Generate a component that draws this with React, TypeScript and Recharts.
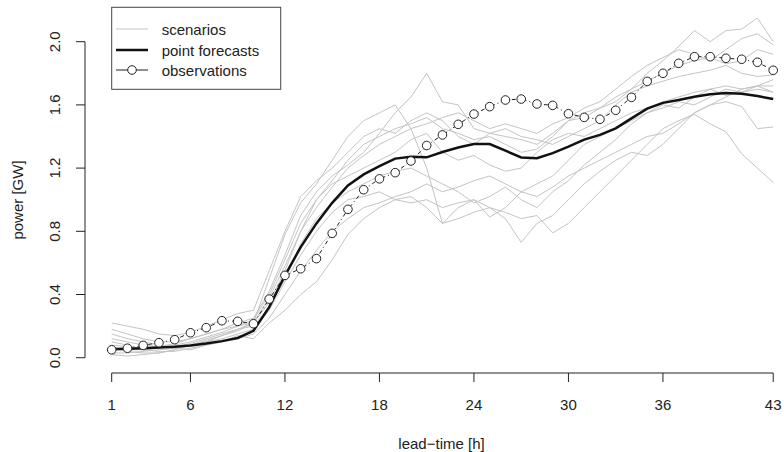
import React from 'react';
import { LineChart, Line, XAxis, YAxis, ReferenceLine, Customized } from 'recharts';

// lead times 1..43 h
const leadTimes = [
  1, 2, 3, 4, 5, 6, 7, 8, 9, 10, 11, 12, 13, 14, 15, 16, 17, 18, 19, 20, 21, 22,
  23, 24, 25, 26, 27, 28, 29, 30, 31, 32, 33, 34, 35, 36, 37, 38, 39, 40, 41, 42, 43,
];

const xTicks = [1, 6, 12, 18, 24, 30, 36, 43];
const yTicks = [0, 0.4, 0.8, 1.2, 1.6, 2.0];

const observations = [
  0.05, 0.06, 0.078, 0.095, 0.114, 0.158, 0.19, 0.234, 0.23, 0.215,
  0.371, 0.521, 0.563, 0.627, 0.787, 0.939, 1.063, 1.132, 1.171, 1.245,
  1.343, 1.41, 1.477, 1.542, 1.589, 1.631, 1.637, 1.606, 1.597, 1.544,
  1.521, 1.509, 1.566, 1.648, 1.749, 1.8, 1.863, 1.905, 1.905, 1.895,
  1.889, 1.87, 1.819,
];

const pointForecasts = [
  0.055, 0.057, 0.06, 0.065, 0.07, 0.078, 0.09, 0.105, 0.125, 0.17,
  0.32, 0.52, 0.7, 0.85, 0.98, 1.09, 1.16, 1.212, 1.26, 1.272,
  1.268, 1.302, 1.33, 1.352, 1.352, 1.31, 1.267, 1.262, 1.295, 1.336,
  1.38, 1.41, 1.452, 1.515, 1.576, 1.613, 1.631, 1.652, 1.668, 1.675,
  1.671, 1.656, 1.637,
];

const scenario1 = [
  0.08, 0.07, 0.06, 0.07, 0.09, 0.12, 0.15, 0.18, 0.22, 0.25,
  0.42, 0.65, 0.9, 1.05, 1.15, 1.22, 1.3, 1.42, 1.55, 1.65,
  1.8, 1.62, 1.6, 1.45, 1.42, 1.4, 1.38, 1.35, 1.42, 1.5,
  1.55, 1.58, 1.65, 1.7, 1.75, 1.8, 1.85, 1.88, 1.9, 1.86, 1.88, 1.95, 1.92,
];
const scenario2 = [
  0.05, 0.04, 0.03, 0.03, 0.05, 0.08, 0.1, 0.14, 0.18, 0.22,
  0.35, 0.55, 0.8, 1.0, 1.12, 1.25, 1.35, 1.4, 1.45, 1.48,
  1.52, 1.45, 1.42, 1.38, 1.4, 1.35, 1.3, 1.32, 1.4, 1.5,
  1.52, 1.58, 1.62, 1.7, 1.8, 1.88, 1.97, 2.07, 2.0, 2.07, 2.08, 2.15, 2.0,
];
const scenario3 = [
  0.15, 0.12, 0.1, 0.08, 0.06, 0.05, 0.08, 0.1, 0.14, 0.12,
  0.22, 0.3, 0.4, 0.48, 0.62, 0.78, 0.88, 0.95, 1.0, 1.02,
  0.95, 0.85, 0.88, 0.92, 0.95, 0.88, 0.73, 0.85, 0.9, 1.0,
  1.1, 1.18, 1.25, 1.3, 1.28, 1.35, 1.45, 1.55, 1.6, 1.65, 1.7, 1.72, 1.76,
];
const scenario4 = [
  0.02, 0.01, 0.02, 0.03, 0.05, 0.08, 0.1, 0.12, 0.15, 0.18,
  0.3, 0.48, 0.65, 0.8, 0.92, 1.0, 1.02, 1.05, 1.0, 0.98,
  1.0, 0.95, 0.98, 1.0, 0.95, 0.92, 0.88, 0.9, 0.79, 0.85,
  0.95, 1.05, 1.15, 1.25, 1.35, 1.45, 1.5, 1.54, 1.48, 1.43, 1.29, 1.2, 1.11,
];
const scenario5 = [
  0.22, 0.2, 0.18, 0.15, 0.14, 0.16, 0.2, 0.24, 0.28, 0.3,
  0.55, 0.8, 1.02, 1.12, 1.2, 1.3, 1.4, 1.45, 1.42, 1.5,
  1.55, 1.5, 1.4, 1.35, 1.42, 1.45, 1.4, 1.38, 1.35, 1.4,
  1.45, 1.5, 1.6, 1.68, 1.72, 1.75, 1.78, 1.8, 1.82, 1.85, 1.8, 1.78, 1.79,
];
const scenario6 = [
  0.1, 0.08, 0.05, 0.04, 0.04, 0.06, 0.08, 0.1, 0.12, 0.15,
  0.25, 0.4, 0.55, 0.68, 0.8, 0.88, 0.95, 0.98, 1.02, 1.05,
  1.1, 1.05, 1.08, 1.12, 1.15, 1.1, 1.05, 1.02, 1.08, 1.15,
  1.2, 1.25, 1.3, 1.35, 1.4, 1.42, 1.48, 1.55, 1.6, 1.62, 1.59, 1.45, 1.46,
];
const scenario7 = [
  0.06, 0.05, 0.05, 0.06, 0.08, 0.1, 0.13, 0.16, 0.2, 0.24,
  0.4, 0.62, 0.85, 1.0, 1.1, 1.15, 1.2, 1.25, 1.3, 1.38,
  1.42, 1.3, 1.25, 1.28, 1.22, 1.18, 1.2, 1.3, 1.38, 1.42,
  1.4, 1.45, 1.5, 1.55, 1.58, 1.62, 1.65, 1.68, 1.7, 1.72, 1.7, 1.72, 1.72,
];
const scenario8 = [
  0.12, 0.1, 0.08, 0.07, 0.07, 0.09, 0.12, 0.15, 0.18, 0.2,
  0.32, 0.5, 0.72, 0.88, 0.98, 1.05, 1.1, 1.15, 1.18, 1.2,
  1.15, 1.1, 1.05, 0.98, 1.02, 1.08, 1.0, 0.95, 1.05, 1.12,
  1.22, 1.3, 1.38, 1.48, 1.55, 1.6, 1.58, 1.65, 1.7, 1.66, 1.68, 1.72, 1.68,
];
const scenario9 = [
  0.03, 0.03, 0.04, 0.05, 0.06, 0.08, 0.11, 0.14, 0.17, 0.22,
  0.38, 0.58, 0.8, 0.95, 1.08, 1.2, 1.28, 1.35, 1.4, 1.45,
  1.48, 1.52, 1.55, 1.5, 1.45, 1.48, 1.45, 1.42, 1.48, 1.52,
  1.58, 1.62, 1.7, 1.78, 1.85, 1.9, 1.95, 1.92, 1.88, 1.95, 2.02, 2.05, 1.98,
];
const scenario10 = [
  0.18, 0.15, 0.12, 0.1, 0.1, 0.12, 0.15, 0.18, 0.2, 0.22,
  0.5, 0.78, 0.98, 1.1, 1.25, 1.4, 1.5, 1.55, 1.6, 1.45,
  1.2, 0.85, 0.95, 1.0, 0.89, 0.95, 1.05, 1.1, 1.15, 1.25,
  1.35, 1.4, 1.45, 1.5, 1.55, 1.58, 1.62, 1.6, 1.65, 1.7, 1.68, 1.7, 1.68,
];

const scenarios = [
  scenario1, scenario2, scenario3, scenario4, scenario5,
  scenario6, scenario7, scenario8, scenario9, scenario10,
];

const data = leadTimes.map((h, i) => {
  const row: Record<string, number> = { h, obs: observations[i], fc: pointForecasts[i] };
  scenarios.forEach((s, k) => {
    row['s' + (k + 1)] = s[i];
  });
  return row;
});

const FONT = '"Liberation Sans", Arial, Helvetica, sans-serif';
const INK = '#222';
const GREY = '#c4c4c4';

const XTick = ({ x, y, payload }: any) => (
  <text x={x} y={y + 27.5} textAnchor="middle" fontSize={15} fontFamily={FONT} fill={INK}>
    {payload.value}
  </text>
);

const YTick = ({ x, y, payload }: any) => {
  const bx = x - 16;
  return (
    <text
      x={bx}
      y={y}
      transform={`rotate(-90 ${bx} ${y})`}
      textAnchor="middle"
      fontSize={15}
      fontFamily={FONT}
      fill={INK}
    >
      {payload.value.toFixed(1)}
    </text>
  );
};

const Overlay = () => (
  <g fontFamily={FONT} fontSize={15} fill={INK}>
    <text x={441.5} y={448.5} textAnchor="middle">lead−time [h]</text>
    <text x={22.5} y={200} textAnchor="middle" transform="rotate(-90 22.5 200)">power [GW]</text>
    <rect x={111.7} y={7.3} width={169} height={82} fill="#fff" stroke="#444" strokeWidth={1} />
    <line x1={116} y1={29} x2={148} y2={29} stroke={GREY} strokeWidth={1} />
    <line x1={116} y1={50} x2={148} y2={50} stroke="#111" strokeWidth={2.5} />
    <line x1={116} y1={70} x2={148} y2={70} stroke={INK} strokeWidth={1} />
    <circle cx={132} cy={70} r={4.3} fill="#fff" stroke={INK} strokeWidth={1} />
    <text x={161.7} y={34.5}>scenarios</text>
    <text x={161.7} y={55.5}>point forecasts</text>
    <text x={161.7} y={75.5}>observations</text>
  </g>
);

export default function App() {
  return (
    <div style={{ position: 'absolute', left: 0, top: 0, background: '#fff' }}>
      <LineChart width={784} height={452} data={data} margin={{ top: 4, right: 0, left: 15, bottom: 0 }}>
        <XAxis
          dataKey="h"
          type="number"
          domain={[-0.695, 43.686]}
          allowDataOverflow
          ticks={xTicks}
          interval={0}
          axisLine={false}
          tickLine={{ stroke: INK }}
          tickSize={9}
          tickMargin={0}
          height={79}
          tick={<XTick />}
        />
        <YAxis
          type="number"
          domain={[-0.0968, 2.2386]}
          allowDataOverflow
          ticks={yTicks}
          interval={0}
          axisLine={false}
          tickLine={{ stroke: INK }}
          tickSize={9}
          tickMargin={0}
          width={70}
          tick={<YTick />}
        />
        <ReferenceLine
          segment={[{ x: 1, y: -0.0968 }, { x: 43, y: -0.0968 }]}
          stroke={INK}
          strokeWidth={1}
          ifOverflow="visible"
        />
        <ReferenceLine
          segment={[{ x: -0.695, y: 0 }, { x: -0.695, y: 2.0 }]}
          stroke={INK}
          strokeWidth={1}
          ifOverflow="visible"
        />
        {scenarios.map((_, k) => (
          <Line
            key={k}
            type="linear"
            dataKey={'s' + (k + 1)}
            stroke={GREY}
            strokeWidth={1}
            dot={false}
            activeDot={false}
            isAnimationActive={false}
          />
        ))}
        <Line
          type="linear"
          dataKey="fc"
          stroke="#111"
          strokeWidth={2.5}
          dot={false}
          activeDot={false}
          isAnimationActive={false}
        />
        <Line
          type="linear"
          dataKey="obs"
          stroke={INK}
          strokeWidth={1}
          strokeDasharray="1 3 4 3"
          dot={{ r: 4.3, fill: '#fff', stroke: INK, strokeWidth: 1, strokeDasharray: '' }}
          activeDot={false}
          isAnimationActive={false}
        />
        <Customized component={<Overlay />} />
      </LineChart>
    </div>
  );
}
